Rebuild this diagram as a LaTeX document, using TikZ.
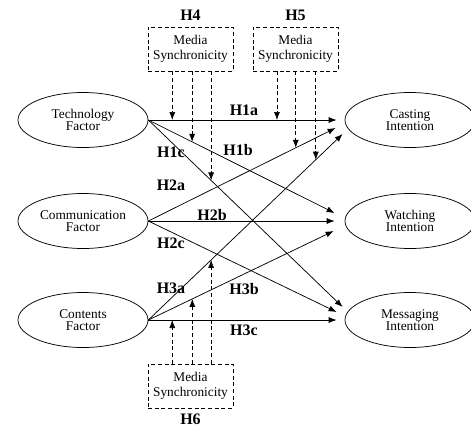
\documentclass[tikz,border=0pt]{standalone}
\usepackage{fontspec}
\setmainfont{Liberation Serif}
\usetikzlibrary{arrows.meta,positioning,shapes.geometric,calc}
\tikzset{
  >={Latex[length=6pt,width=4.5pt]},
  fac/.style ={draw, ellipse, minimum width=97.5pt, minimum height=41.25pt, inner sep=0pt, align=center, font=\fontsize{10}{9.5}\selectfont},
  ms/.style  ={draw, densely dashed, minimum width=63.75pt, minimum height=33pt, inner sep=0pt, align=center, font=\fontsize{10}{11.25}\selectfont},
  hl/.style  ={font=\fontsize{12}{14}\selectfont\bfseries},
  mod/.style ={->, densely dashed}
}

\begin{document}
\begin{tikzpicture}[x=0.75pt, y=-0.75pt, line width=0.55pt]
\useasboundingbox (0,0) rectangle (471,426);
% factors
\node[fac] (tech)  at (83,120)  {Technology\\Factor};
\node[fac] (comm)  at (83,221)  {Communication\\Factor};
\node[fac] (cont)  at (83,320)  {Contents\\Factor};
% intentions
\node[fac] (cast)  at (410,120) {Casting\\Intention};
\node[fac] (watch) at (410,221) {Watching\\Intention};
\node[fac] (msg)   at (410,320) {Messaging\\Intention};
% media synchronicity
\node[ms] (ms4) at (190.5,49)  {Media\\Synchronicity};
\node[ms] (ms5) at (295.5,49)  {Media\\Synchronicity};
\node[ms] (ms6) at (190.5,386) {Media\\Synchronicity};
\node[hl, above=1pt of ms4] (h4) {H4};
\node[hl, above=1pt of ms5] (h5) {H5};
\node[hl, inner sep=0pt] (h6) at (190.5,419) {H6};

% paths
\draw[->] (tech.east) -- coordinate[pos=.127] (d1) coordinate[pos=.683] (e1) ($(cast.west)+(-8,0)$);
\draw[->] (tech.east) -- coordinate[pos=.235] (d2) ($(watch.west)+(-10,-8)$);
\draw[->] (tech.east) -- coordinate[pos=.323] (d3) ($(msg.west)+(-2,-13)$);
\draw[->] (comm.east) -- coordinate[pos=.787] (e2) ($(cast.west)+(-9,8)$);
\draw[->] (comm.east) -- ($(watch.west)+(-10,0)$);
\draw[->] (comm.east) -- ($(msg.west)+(-8,-8)$);
\draw[->] (cont.east) -- coordinate[pos=.323] (f3) coordinate[pos=.862] (e3) ($(cast.west)+(-2,14)$);
\draw[->] (cont.east) -- coordinate[pos=.237] (f2) ($(watch.west)+(-11,10)$);
\draw[->] (cont.east) -- coordinate[pos=.127] (f1) ($(msg.west)+(-8,0)$);

% hypotheses
\node[hl] (h1a) at (244,110) {H1a};
\node[hl] (h1b) at (238,150) {H1b};
\node[hl] (h1c) at (171,152) {H1c};
\node[hl] (h2a) at (171,185) {H2a};
\node[hl] (h2b) at (212,215) {H2b};
\node[hl] (h2c) at (171,243) {H2c};
\node[hl] (h3a) at (171,288) {H3a};
\node[hl] (h3b) at (244,289) {H3b};
\node[hl] (h3c) at (244,330) {H3c};

% moderation
\draw[mod] (d1 |- ms4.south) -- (d1);
\draw[mod] (d2 |- ms4.south) -- (d2);
\draw[mod] (d3 |- ms4.south) -- (d3);
\draw[mod] (e1 |- ms5.south) -- (e1);
\draw[mod] (e2 |- ms5.south) -- (e2);
\draw[mod] (e3 |- ms5.south) -- (e3);
\draw[mod] (f1 |- ms6.north) -- (f1);
\draw[mod] (f2 |- ms6.north) -- (f2);
\draw[mod] (f3 |- ms6.north) -- (f3);
\end{tikzpicture}
\end{document}
